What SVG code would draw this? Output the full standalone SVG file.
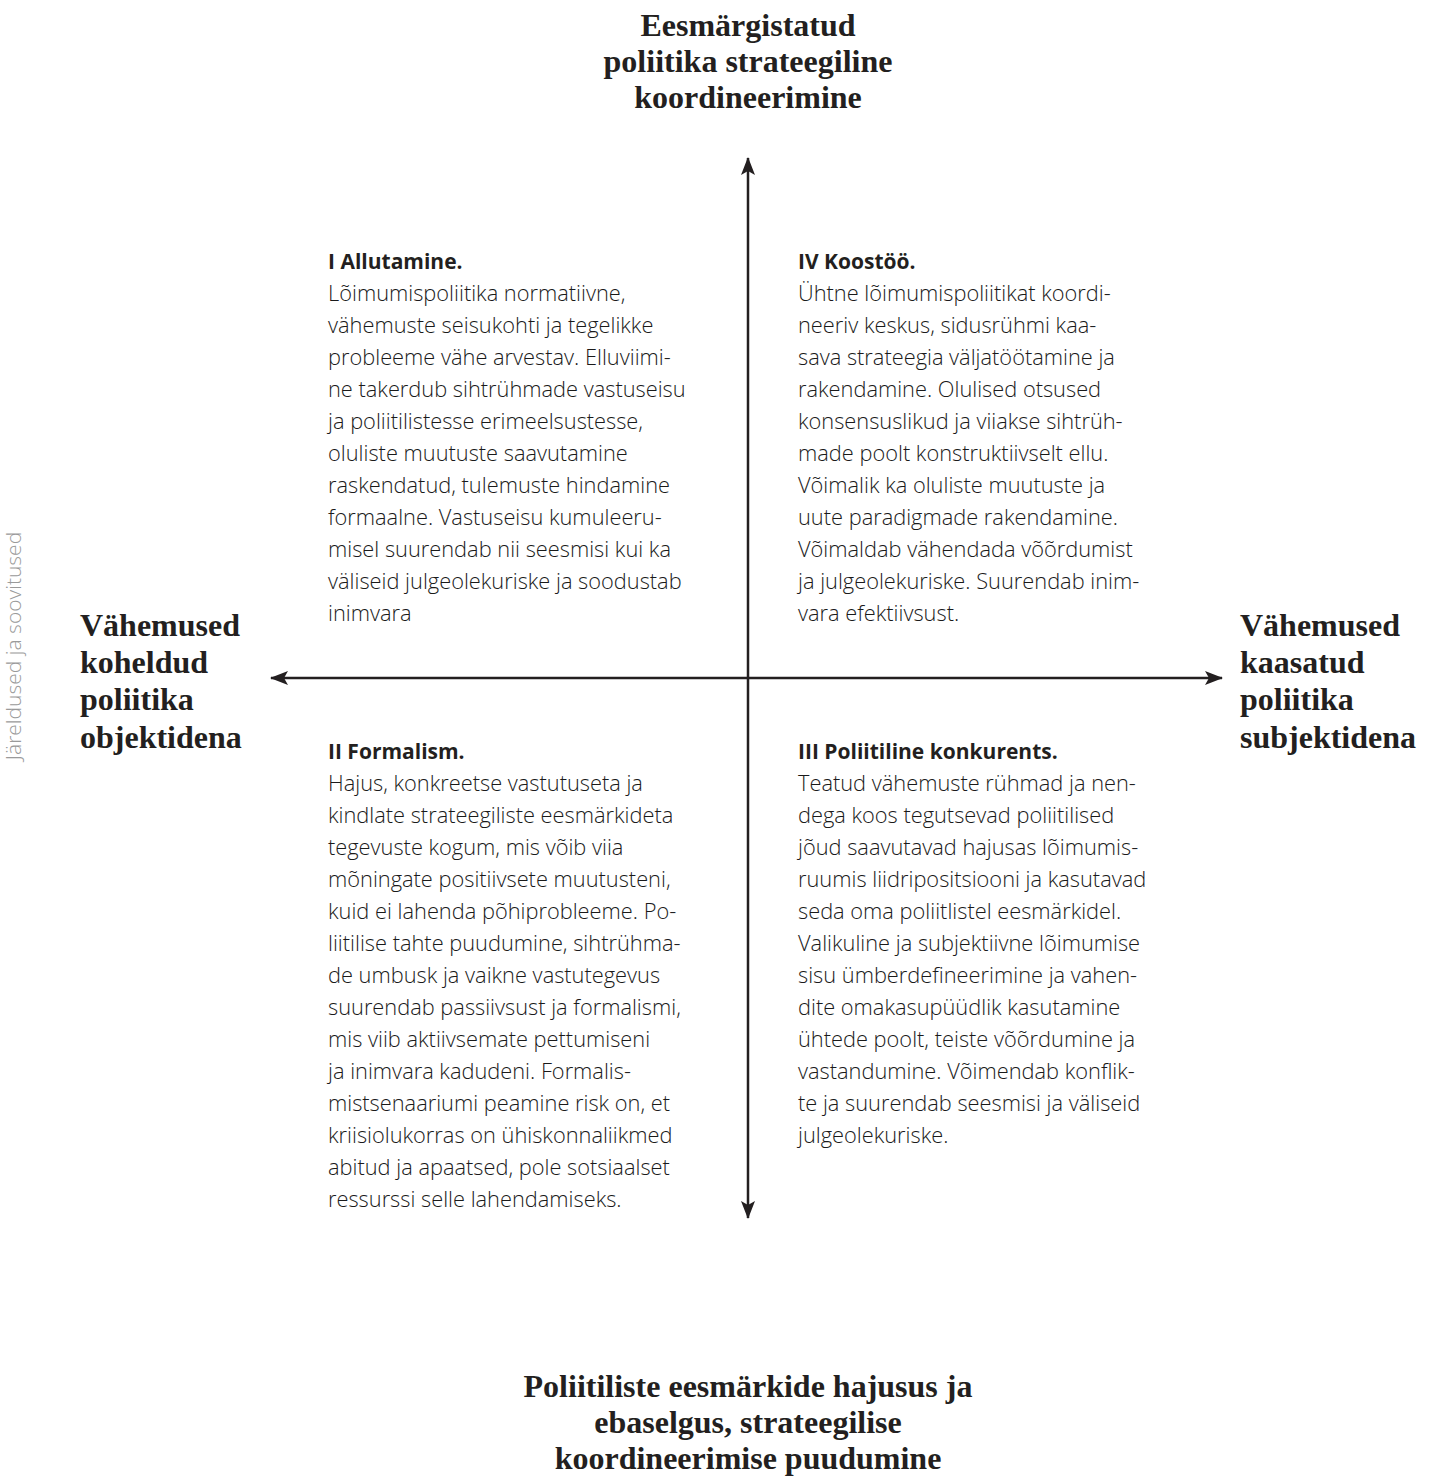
<svg xmlns="http://www.w3.org/2000/svg" width="1432" height="1479" viewBox="0 0 1432 1479">
<style>
.h{font-family:"Liberation Serif","Times New Roman",serif;font-weight:bold;font-size:32px;fill:#231f20}
.hc{text-anchor:middle}
.t{font-family:"Open Sans","Noto Sans",sans-serif;font-weight:bold;font-size:21px;fill:#231f20}
.b{font-family:"Open Sans","Noto Sans",sans-serif;font-weight:300;font-size:21.8px;fill:#1a1a1a}
.side{font-family:"Open Sans","Noto Sans",sans-serif;font-weight:300;font-size:21px;fill:#9a9a9a}
.ax{stroke:#231f20;stroke-width:2.5;fill:none}
</style>
<defs>
<marker id="ah" viewBox="0 0 18 14" refX="17" refY="7" markerWidth="18" markerHeight="14" markerUnits="userSpaceOnUse" orient="auto-start-reverse">
<path d="M0,0 L18,7 L0,14 L4,7 Z" fill="#231f20"/>
</marker>
</defs>
<rect width="1432" height="1479" fill="#ffffff"/>
<g id="connectors">
<line class="ax" x1="748" y1="1218" x2="748" y2="158" marker-start="url(#ah)" marker-end="url(#ah)"/>
<line class="ax" x1="271" y1="678" x2="1222" y2="678" marker-start="url(#ah)" marker-end="url(#ah)"/>
</g>
<g id="label-top">
<text class="h hc" x="748"><tspan x="748" y="36">Eesmärgistatud</tspan><tspan x="748" y="72">poliitika strateegiline</tspan><tspan x="748" y="108">koordineerimine</tspan></text>
</g>
<g id="label-bottom">
<text class="h hc"><tspan x="748" y="1397">Poliitiliste eesmärkide hajusus ja</tspan><tspan x="748" y="1433">ebaselgus, strateegilise</tspan><tspan x="748" y="1469">koordineerimise puudumine</tspan></text>
</g>
<g id="label-left">
<text class="h"><tspan x="80" y="636">Vähemused</tspan><tspan x="80" y="673">koheldud</tspan><tspan x="80" y="710">poliitika</tspan><tspan x="80" y="748">objektidena</tspan></text>
</g>
<g id="label-right">
<text class="h"><tspan x="1240" y="636">Vähemused</tspan><tspan x="1240" y="673">kaasatud</tspan><tspan x="1240" y="710">poliitika</tspan><tspan x="1240" y="748">subjektidena</tspan></text>
</g>
<g id="side-label">
<text class="side" text-anchor="middle" transform="translate(21,646) rotate(-90)">Järeldused ja soovitused</text>
</g>
<g id="q1">
<text class="t" x="328" y="269">I Allutamine.</text>
<text class="b"><tspan x="328" y="301">Lõimumispoliitika normatiivne,</tspan><tspan x="328" y="333">vähemuste seisukohti ja tegelikke</tspan><tspan x="328" y="365">probleeme vähe arvestav. Elluviimi-</tspan><tspan x="328" y="397">ne takerdub sihtrühmade vastuseisu</tspan><tspan x="328" y="429">ja poliitilistesse erimeelsustesse,</tspan><tspan x="328" y="461">oluliste muutuste saavutamine</tspan><tspan x="328" y="493">raskendatud, tulemuste hindamine</tspan><tspan x="328" y="525">formaalne. Vastuseisu kumuleeru-</tspan><tspan x="328" y="557">misel suurendab nii seesmisi kui ka</tspan><tspan x="328" y="589">väliseid julgeolekuriske ja soodustab</tspan><tspan x="328" y="621">inimvara</tspan></text>
</g>
<g id="q4">
<text class="t" x="798" y="269">IV Koostöö.</text>
<text class="b"><tspan x="798" y="301">Ühtne lõimumispoliitikat koordi-</tspan><tspan x="798" y="333">neeriv keskus, sidusrühmi kaa-</tspan><tspan x="798" y="365">sava strateegia väljatöötamine ja</tspan><tspan x="798" y="397">rakendamine. Olulised otsused</tspan><tspan x="798" y="429">konsensuslikud ja viiakse sihtrüh-</tspan><tspan x="798" y="461">made poolt konstruktiivselt ellu.</tspan><tspan x="798" y="493">Võimalik ka oluliste muutuste ja</tspan><tspan x="798" y="525">uute paradigmade rakendamine.</tspan><tspan x="798" y="557">Võimaldab vähendada võõrdumist</tspan><tspan x="798" y="589">ja julgeolekuriske. Suurendab inim-</tspan><tspan x="798" y="621">vara efektiivsust.</tspan></text>
</g>
<g id="q2">
<text class="t" x="328" y="759">II Formalism.</text>
<text class="b"><tspan x="328" y="791">Hajus, konkreetse vastutuseta ja</tspan><tspan x="328" y="823">kindlate strateegiliste eesmärkideta</tspan><tspan x="328" y="855">tegevuste kogum, mis võib viia</tspan><tspan x="328" y="887">mõningate positiivsete muutusteni,</tspan><tspan x="328" y="919">kuid ei lahenda põhiprobleeme. Po-</tspan><tspan x="328" y="951">liitilise tahte puudumine, sihtrühma-</tspan><tspan x="328" y="983">de umbusk ja vaikne vastutegevus</tspan><tspan x="328" y="1015">suurendab passiivsust ja formalismi,</tspan><tspan x="328" y="1047">mis viib aktiivsemate pettumiseni</tspan><tspan x="328" y="1079">ja inimvara kadudeni. Formalis-</tspan><tspan x="328" y="1111">mistsenaariumi peamine risk on, et</tspan><tspan x="328" y="1143">kriisiolukorras on ühiskonnaliikmed</tspan><tspan x="328" y="1175">abitud ja apaatsed, pole sotsiaalset</tspan><tspan x="328" y="1207">ressurssi selle lahendamiseks.</tspan></text>
</g>
<g id="q3">
<text class="t" x="798" y="759">III Poliitiline konkurents.</text>
<text class="b"><tspan x="798" y="791">Teatud vähemuste rühmad ja nen-</tspan><tspan x="798" y="823">dega koos tegutsevad poliitilised</tspan><tspan x="798" y="855">jõud saavutavad hajusas lõimumis-</tspan><tspan x="798" y="887">ruumis liidripositsiooni ja kasutavad</tspan><tspan x="798" y="919">seda oma poliitlistel eesmärkidel.</tspan><tspan x="798" y="951">Valikuline ja subjektiivne lõimumise</tspan><tspan x="798" y="983">sisu ümberdefineerimine ja vahen-</tspan><tspan x="798" y="1015">dite omakasupüüdlik kasutamine</tspan><tspan x="798" y="1047">ühtede poolt, teiste võõrdumine ja</tspan><tspan x="798" y="1079">vastandumine. Võimendab konflik-</tspan><tspan x="798" y="1111">te ja suurendab seesmisi ja väliseid</tspan><tspan x="798" y="1143">julgeolekuriske.</tspan></text>
</g>
</svg>
